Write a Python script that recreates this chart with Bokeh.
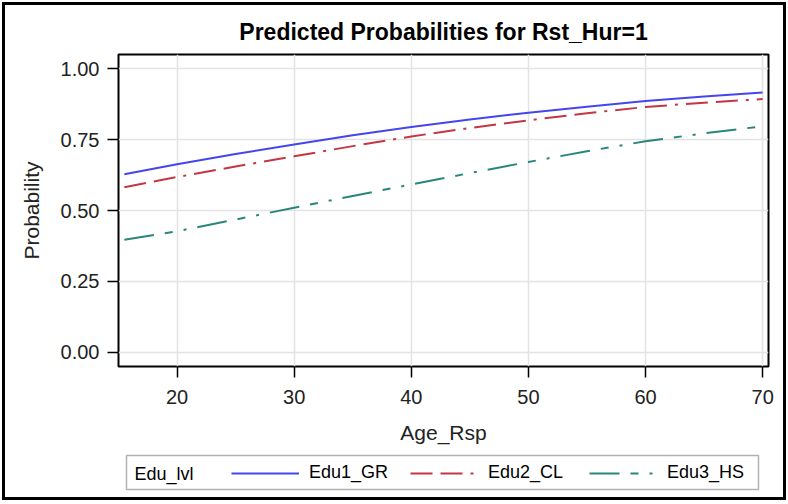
from bokeh.plotting import figure
from bokeh.layouts import column
from bokeh.models import FixedTicker, Legend, LegendItem, Range1d, Label, BoxAnnotation
from bokeh.embed import file_html
from bokeh.resources import INLINE

# ---- data ----
ages = [15.5, 20, 25, 30, 35, 40, 45, 50, 55, 60, 65, 70]
edu1_gr = [0.628, 0.663, 0.699, 0.733, 0.765, 0.794, 0.821, 0.845, 0.866, 0.886, 0.902, 0.916]
edu2_cl = [0.582, 0.618, 0.655, 0.691, 0.727, 0.761, 0.791, 0.818, 0.843, 0.865, 0.880, 0.893]
edu3_hs = [0.397, 0.427, 0.468, 0.510, 0.551, 0.592, 0.632, 0.671, 0.709, 0.744, 0.772, 0.797]

series_names = ["Edu1_GR", "Edu2_CL", "Edu3_HS"]
legend_title = "Edu_lvl"
x_ticks = [20, 30, 40, 50, 60, 70]
y_ticks = [0.0, 0.25, 0.5, 0.75, 1.0]
y_tick_labels = {0.0: "0.00", 0.25: "0.25", 0.5: "0.50", 0.75: "0.75", 1.0: "1.00"}

FONT = "Liberation Sans"
colors = ["#4545F0", "#C43644", "#2A857A"]
dashes = ["solid", "22 8 22 8 3 8", "30 11 8 11 3 11"]
ys = [edu1_gr, edu2_cl, edu3_hs]

# ---------------- main chart ----------------
p = figure(frame_width=650, frame_height=312, output_backend="svg", toolbar_location=None,
           x_range=Range1d(15, 70.5), y_range=Range1d(-0.05, 1.05),
           min_border_left=118, min_border_right=20, min_border_top=54, min_border_bottom=87,
           title="Predicted Probabilities for Rst_Hur=1")

p.title.align = "center"
p.title.text_font = FONT
p.title.text_font_size = "23px"
p.title.text_font_style = "bold"
p.title.text_color = "black"
p.title.standoff = 20
p.title.offset = 0

p.outline_line_color = "black"
p.outline_line_width = 2
p.background_fill_color = "white"
p.border_fill_color = None

for ax in (p.xaxis[0], p.yaxis[0]):
    ax.axis_line_color = None
    ax.major_tick_line_color = "black"
    ax.major_tick_line_width = 1.5
    ax.major_tick_out = 11
    ax.major_tick_in = 0
    ax.minor_tick_line_color = None
    ax.major_label_text_font = FONT
    ax.major_label_text_font_size = "20px"
    ax.major_label_text_color = "#222222"
    ax.axis_label_text_font = FONT
    ax.axis_label_text_font_size = "21px"
    ax.axis_label_text_font_style = "normal"
    ax.axis_label_text_color = "#222222"

p.xaxis.ticker = FixedTicker(ticks=x_ticks)
p.yaxis.ticker = FixedTicker(ticks=y_ticks)
p.yaxis.major_label_overrides = y_tick_labels
p.xaxis.axis_label = "Age_Rsp"
p.yaxis.axis_label = "Probability"
p.xaxis.major_label_standoff = 12
p.yaxis.major_label_standoff = 8
p.xaxis.axis_label_standoff = 14
p.yaxis.axis_label_standoff = 15

p.xgrid.ticker = FixedTicker(ticks=x_ticks)
p.ygrid.ticker = FixedTicker(ticks=y_ticks)
p.grid.grid_line_color = "#e3e3e3"
p.grid.grid_line_width = 1.5

for name, y, c, d in zip(series_names, ys, colors, dashes):
    p.line(ages, y, line_color=c, line_width=2, line_dash=d)

# ---------------- legend strip (pixel-scaled ranges, same frame columns as the chart) ----
pl = figure(frame_width=650, frame_height=40, output_backend="svg", toolbar_location=None,
            x_range=Range1d(100, 750), y_range=Range1d(0, 40),
            min_border_left=118, min_border_right=20, min_border_top=0, min_border_bottom=9)
pl.axis.visible = False
pl.grid.visible = False
pl.outline_line_color = None
pl.border_fill_color = None
pl.background_fill_color = "white"

# legend box
pl.add_layout(BoxAnnotation(left=108, right=740, bottom=4, top=38,
                            fill_alpha=0, line_color="black", line_width=1.5))

items = []
for name, y, c, d in zip(series_names, ys, colors, dashes):
    # series lie outside this strip's ranges; they only feed the legend glyphs
    r = pl.line(ages, y, line_color=c, line_width=2, line_dash=d)
    items.append(LegendItem(label=name, renderers=[r]))

legend = Legend(items=items, orientation="horizontal", location=(113, 10))
legend.label_text_font = FONT
legend.label_text_font_size = "18px"
legend.label_text_color = "black"
legend.glyph_width = 68
legend.glyph_height = 20
legend.label_height = 20
legend.label_width = 88
legend.label_standoff = 10
legend.spacing = 13
legend.padding = 0
legend.margin = 0
legend.border_line_color = None
legend.background_fill_alpha = 0
pl.add_layout(legend, "center")

pl.add_layout(Label(x=116, y=20, text=legend_title, text_font=FONT, text_font_size="18px",
                    text_baseline="middle", text_color="black"))

layout = column(p, pl, spacing=0,
                styles={"outline": "3px solid black", "outline-offset": "-5px",
                        "background-color": "white"})

open("out.html", "w").write(file_html(layout, INLINE))
